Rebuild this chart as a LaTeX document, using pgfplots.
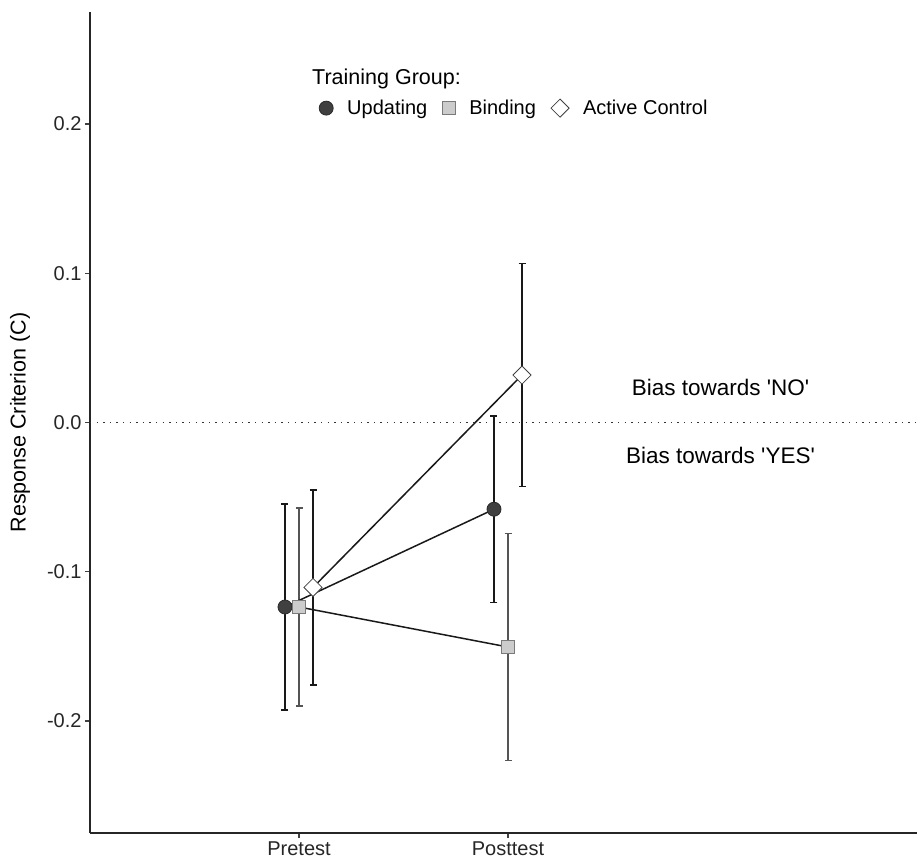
\documentclass[border=0pt]{standalone}
\usepackage{fontspec}
\setmainfont{Liberation Sans}
\usepackage{pgfplots}
\pgfplotsset{compat=1.18}
\pgfplotsset{markonly legend/.style={legend image code/.code={\draw[##1] plot coordinates {(0pt,0pt)};}}}
\definecolor{updf}{HTML}{404040}
\definecolor{updd}{HTML}{2A2A2A}
\definecolor{bindf}{HTML}{CCCCCC}
\definecolor{bindd}{HTML}{7A7A7A}
\definecolor{binderr}{HTML}{555555}
\definecolor{actd}{HTML}{404040}
\begin{document}
\begin{tikzpicture}[x=1pt,y=1pt]
\useasboundingbox (0,0) rectangle (917,860);
\begin{axis}[
  at={(90pt,27pt)}, anchor=south west,
  scale only axis, width=827pt, height=821pt,
  xmin=0, xmax=3.957, ymin=-0.275, ymax=0.275,
  axis x line=bottom, axis y line=left,
  axis line style={-, line width=1.6pt, black!85},
  xtick={1,2}, xticklabels={Pretest,Posttest},
  ytick={-0.2,-0.1,0,0.1,0.2}, yticklabels={-0.2,-0.1,0.0,0.1,0.2},
  tick align=outside, major tick length=5pt,
  tick style={line width=1.4pt, black!75},
  ticklabel style={font=\fontsize{20}{24}\selectfont, text=black!85},
  ylabel={Response Criterion (C)},
  ylabel style={at={(axis description cs:-0.0846,0.5)}, anchor=center, font=\fontsize{21.5}{26}\selectfont},
  clip=false,
  legend style={at={(axis cs:1.0957,0.2106)}, anchor=west, draw=none, fill=none,
    inner sep=0pt, font=\fontsize{20}{24}\selectfont,
    nodes={inner sep=0pt},
    /tikz/every even column/.append style={column sep=15pt},
    /tikz/every odd column/.append style={column sep=14pt}},
  legend columns=3,
  legend cell align=left,
]
% zero reference line
\addplot[forget plot, line width=1.3pt, black!80, dash pattern=on 1.3pt off 5.3pt] coordinates {(0,0) (3.957,0)};
% error bars
\addplot[forget plot, draw=none, mark=none,
  error bars/.cd, y dir=both, y explicit, error mark=-,
  error bar style={line width=1.5pt, draw=black!90},
  error mark options={rotate=90, line width=1.5pt, draw=black!90, mark size=3.5pt}]
  coordinates {(0.933,-0.1236) +- (0,0.0690) (1.933,-0.0581) +- (0,0.0626)};
\addplot[forget plot, draw=none, mark=none,
  error bars/.cd, y dir=both, y explicit, error mark=-,
  error bar style={line width=1.5pt, draw=binderr},
  error mark options={rotate=90, line width=1.5pt, draw=binderr, mark size=3.5pt}]
  coordinates {(1,-0.1236) +- (0,0.0662) (2,-0.1504) +- (0,0.0761)};
\addplot[forget plot, draw=none, mark=none,
  error bars/.cd, y dir=both, y explicit, error mark=-,
  error bar style={line width=1.5pt, draw=black!90},
  error mark options={rotate=90, line width=1.5pt, draw=black!90, mark size=3.5pt}]
  coordinates {(1.067,-0.1105) +- (0,0.0652) (2.067,0.0318) +- (0,0.0746)};
% connecting lines
\addplot[forget plot, line width=1.5pt, black!90, mark=none] coordinates {(0.933,-0.1236) (1.933,-0.0581)};
\addplot[forget plot, line width=1.5pt, black!90, mark=none] coordinates {(1,-0.1236) (2,-0.1504)};
\addplot[forget plot, line width=1.5pt, black!90, mark=none] coordinates {(1.067,-0.1105) (2.067,0.0318)};
% markers
\addplot[only marks, mark=*, mark size=7pt, mark options={fill=updf, draw=updd, line width=0.8pt}, markonly legend]
  coordinates {(0.933,-0.1236) (1.933,-0.0581)};
\addlegendentry{Updating}
\addplot[only marks, mark=square*, mark size=6.5pt, mark options={fill=bindf, draw=bindd, line width=0.8pt}, markonly legend]
  coordinates {(1,-0.1236) (2,-0.1504)};
\addlegendentry{Binding}
\addplot[only marks, mark=square*, mark size=6.4pt, mark options={fill=white, draw=actd, line width=0.8pt, rotate=45}, markonly legend]
  coordinates {(1.067,-0.1105) (2.067,0.0318)};
\addlegendentry{Active Control}
\node[font=\fontsize{22.5}{27}\selectfont, anchor=center, inner sep=0pt] at (axis cs:3.017,0.0238) {Bias towards \textquotesingle NO\textquotesingle};
\node[font=\fontsize{22.5}{27}\selectfont, anchor=center, inner sep=0pt] at (axis cs:3.017,-0.0218) {Bias towards \textquotesingle YES\textquotesingle};
\end{axis}
\node[anchor=base west, inner sep=0pt, font=\fontsize{21.5}{26}\selectfont] at (312,775.3) {Training Group:};
\end{tikzpicture}
\end{document}
